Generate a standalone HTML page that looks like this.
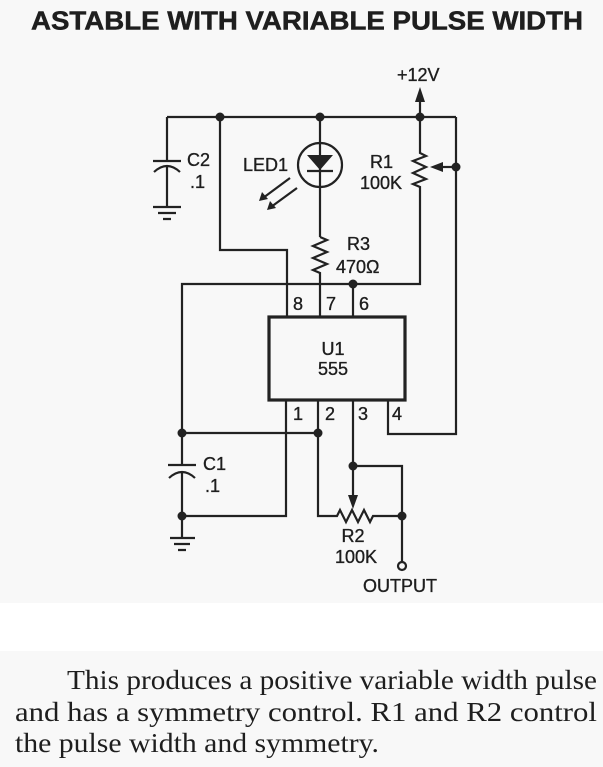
<!DOCTYPE html>
<html><head><meta charset="utf-8">
<style>
html,body{margin:0;padding:0;background:#f8f8f8;}
svg{display:block;}
</style></head>
<body>
<svg width="603" height="767" viewBox="0 0 603 767" xmlns="http://www.w3.org/2000/svg">
<rect x="0" y="0" width="603" height="767" fill="#f8f8f8"/>
<rect x="0" y="603" width="603" height="48" fill="#ffffff"/>
<text x="31" y="29.5" font-family="Liberation Sans, sans-serif" font-weight="bold" font-size="26" fill="#1e1e1e" stroke="#1e1e1e" stroke-width="0.5" textLength="552" lengthAdjust="spacingAndGlyphs">ASTABLE WITH VARIABLE PULSE WIDTH</text>

<g fill="none" stroke="#222" stroke-width="2.2" stroke-linejoin="miter">
  <!-- top rail -->
  <path d="M167,117 H456"/>
  <!-- C2 -->
  <path d="M167,117 V161"/>
  <path d="M153,161 H181"/>
  <path d="M154,172 Q167,160 180,172"/>
  <path d="M167,166 V207"/>
  <path d="M153,207 H181 M158,213 H176 M163,219 H171"/>
  <!-- pin 8 route -->
  <path d="M220,117 V250 H287 V317"/>
  <!-- LED -->
  <path d="M320,117 V237"/>
  <circle cx="320" cy="165" r="22"/>
  <path d="M307,171 H333"/>
  <!-- LED arrows -->
  <path d="M290,178 L263,198"/>
  <path d="M297,188 L271,207"/>
  <!-- R3 -->
  <path d="M320,237 L327,240 L313,246 L327,252 L313,258 L327,264 L313,270 L320,273 V317"/>
  <!-- R1 -->
  <path d="M420,100 V153 L426,156 L413,161 L426,167 L413,173 L426,179 L413,184 L420,187 V284 H182 V433 H318"/>
  <path d="M353,284 V317"/>
  <!-- right rail -->
  <path d="M456,117 V434 H388 V400"/>
  <path d="M456,167 H441"/>
  <!-- C1 -->
  <path d="M182,433 V465"/>
  <path d="M168,465 H196"/>
  <path d="M169,478 Q182,466 195,478"/>
  <path d="M182,471 V538"/>
  <path d="M170,538 H195 M174,544 H190 M178,550 H186"/>
  <path d="M182,516 H286 V400"/>
  <!-- pin 2 / R2 -->
  <path d="M318,400 V516 H337 L340,510 L346,522 L352,510 L358,522 L364,510 L370,522 L373,516 H402"/>
  <!-- pin 3 -->
  <path d="M353,400 V466 H402 V562"/>
  <path d="M353,466 V496"/>
  <circle cx="402" cy="566" r="4"/>
</g>
<rect x="269" y="317" width="136" height="83" fill="none" stroke="#222" stroke-width="3.2"/>

<g fill="#222" stroke="none">
  <polygon points="307,155 333,155 320,170"/>
  <polygon points="420,87 415,102 425,102"/>
  <polygon points="430,167 443,162 443,172"/>
  <polygon points="353,509 348,495 358,495"/>
  <polygon points="259,201 262,192 268,199"/>
  <polygon points="267,210 270,201 276,208"/>
  <circle cx="220" cy="117" r="4.5"/>
  <circle cx="320" cy="117" r="4.5"/>
  <circle cx="420" cy="117" r="4.5"/>
  <circle cx="456" cy="167" r="4.5"/>
  <circle cx="353" cy="284" r="4.5"/>
  <circle cx="182" cy="433" r="4.5"/>
  <circle cx="318" cy="433" r="4.5"/>
  <circle cx="182" cy="516" r="4.5"/>
  <circle cx="353" cy="466" r="4.5"/>
  <circle cx="402" cy="516" r="4.5"/>
</g>

<g font-family="Liberation Sans, sans-serif" font-size="18" fill="#1e1e1e" stroke="#1e1e1e" stroke-width="0.35">
  <text x="397" y="81">+12V</text>
  <text x="187" y="166">C2</text>
  <text x="190" y="188">.1</text>
  <text x="243" y="171">LED1</text>
  <text x="370" y="168">R1</text>
  <text x="360" y="189">100K</text>
  <text x="347" y="250">R3</text>
  <text x="336" y="273">470Ω</text>
  <text x="293" y="310">8</text>
  <text x="326" y="310">7</text>
  <text x="359" y="310">6</text>
  <text x="293" y="420">1</text>
  <text x="325" y="420">2</text>
  <text x="358" y="420">3</text>
  <text x="392" y="420">4</text>
  <text x="333" y="355" text-anchor="middle">U1</text>
  <text x="333" y="375" text-anchor="middle">555</text>
  <text x="203" y="470">C1</text>
  <text x="205" y="492">.1</text>
  <text x="353" y="542" text-anchor="middle">R2</text>
  <text x="356" y="563" text-anchor="middle">100K</text>
  <text x="363" y="592">OUTPUT</text>
</g>

<g font-family="Liberation Serif, serif" font-size="27.5" fill="#1e1e1e">
  <text x="67" y="689" textLength="530" lengthAdjust="spacingAndGlyphs">This produces a positive variable width pulse</text>
  <text x="15" y="721" textLength="582" lengthAdjust="spacingAndGlyphs">and has a symmetry control. R1 and R2 control</text>
  <text x="15" y="752" textLength="364" lengthAdjust="spacingAndGlyphs">the pulse width and symmetry.</text>
</g>
</svg>
</body></html>
